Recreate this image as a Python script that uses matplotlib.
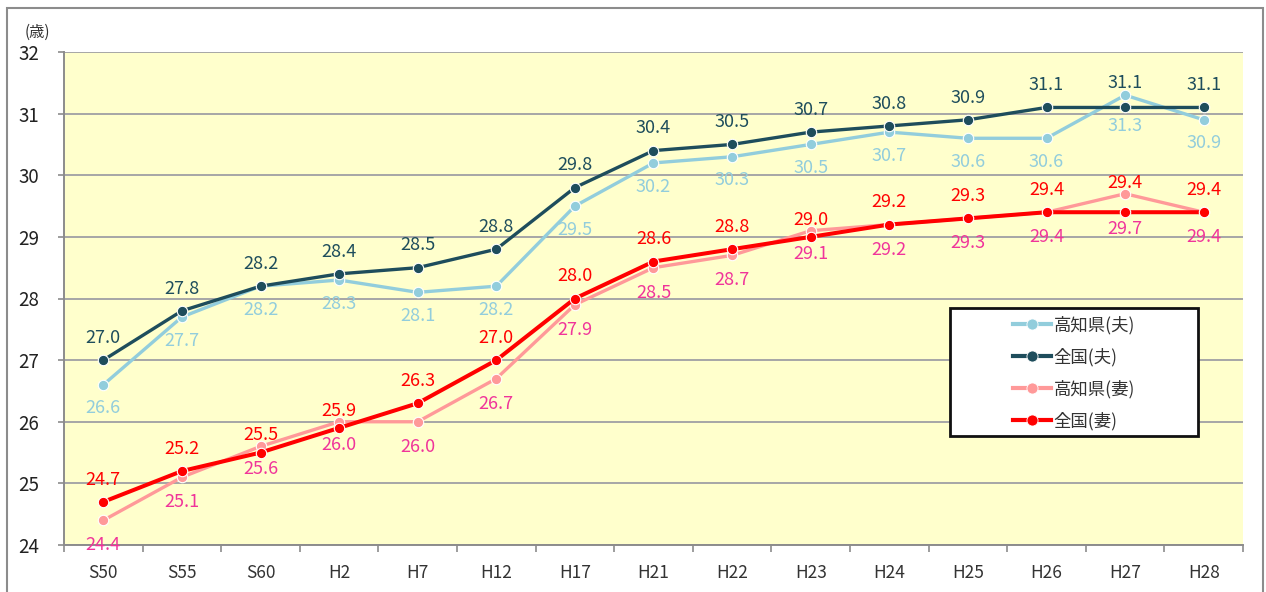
import matplotlib
matplotlib.use("Agg")
import matplotlib.pyplot as plt
from matplotlib.patches import Rectangle
from matplotlib.lines import Line2D
import numpy as np

plt.rcParams['font.family'] = ['Noto Sans CJK JP', 'DejaVu Sans']

categories = ["S50", "S55", "S60", "H2", "H7", "H12", "H17", "H21", "H22", "H23", "H24", "H25", "H26", "H27", "H28"]
kochi_husband = [26.6, 27.7, 28.2, 28.3, 28.1, 28.2, 29.5, 30.2, 30.3, 30.5, 30.7, 30.6, 30.6, 31.3, 30.9]
national_husband = [27.0, 27.8, 28.2, 28.4, 28.5, 28.8, 29.8, 30.4, 30.5, 30.7, 30.8, 30.9, 31.1, 31.1, 31.1]
kochi_wife = [24.4, 25.1, 25.6, 26.0, 26.0, 26.7, 27.9, 28.5, 28.7, 29.1, 29.2, 29.3, 29.4, 29.7, 29.4]
national_wife = [24.7, 25.2, 25.5, 25.9, 26.3, 27.0, 28.0, 28.6, 28.8, 29.0, 29.2, 29.3, 29.4, 29.4, 29.4]
series_names = ["高知県(夫)", "全国(夫)", "高知県(妻)", "全国(妻)"]
y_ticks = [24, 25, 26, 27, 28, 29, 30, 31, 32]
y_unit = "(歳)"

W, H = 1266, 592
fig = plt.figure(figsize=(W / 100, H / 100), dpi=100)
fig.patch.set_facecolor("white")

# outer frame
fig.patches.append(Rectangle((7 / W, -0.05), (1263 - 7) / W, 1.05 - 8 / H,
                             transform=fig.transFigure, fill=False,
                             edgecolor="#8c8c8c", linewidth=1.5))

L, R, T, B = 64, 1243, 52, 545
ax = fig.add_axes([L / W, 1 - B / H, (R - L) / W, (B - T) / H])
ax.set_facecolor("#FFFFCC")

x = np.arange(len(categories))
c_kh, c_nh, c_kw, c_nw = "#92CDDC", "#1E4D5C", "#FF9999", "#FF0000"
lab_kw = "#F0349A"

ax.plot(x, kochi_husband, color=c_kh, lw=2.4, marker="o", ms=7.5, mec="white", mew=0.8, zorder=3)
ax.plot(x, national_husband, color=c_nh, lw=2.4, marker="o", ms=7.5, mec="white", mew=0.8, zorder=4)
ax.plot(x, kochi_wife, color=c_kw, lw=2.4, marker="o", ms=7.5, mec="white", mew=0.8, zorder=3)
ax.plot(x, national_wife, color=c_nw, lw=2.9, marker="o", ms=7.5, mec="white", mew=0.8, zorder=4)

fs = 13
for i in range(len(categories)):
    top_h = max(kochi_husband[i], national_husband[i])
    low_h = min(kochi_husband[i], national_husband[i])
    top_w = max(kochi_wife[i], national_wife[i])
    low_w = min(kochi_wife[i], national_wife[i])
    ax.annotate(f"{national_husband[i]:.1f}", (x[i], top_h), xytext=(0, 16 if top_h == national_husband[i] else 9),
                textcoords="offset points", ha="center", va="center", color=c_nh, fontsize=fs, zorder=6)
    ax.annotate(f"{kochi_husband[i]:.1f}", (x[i], low_h), xytext=(0, -17 if low_h == kochi_husband[i] else -13),
                textcoords="offset points", ha="center", va="center", color=c_kh, fontsize=fs, zorder=6)
    ax.annotate(f"{national_wife[i]:.1f}", (x[i], top_w), xytext=(0, 16 if top_w == national_wife[i] else 8),
                textcoords="offset points", ha="center", va="center", color=c_nw, fontsize=fs, zorder=6)
    ax.annotate(f"{kochi_wife[i]:.1f}", (x[i], low_w), xytext=(0, -18 if low_w == kochi_wife[i] else -12),
                textcoords="offset points", ha="center", va="center", color=lab_kw, fontsize=fs, zorder=6)

ax.set_xlim(-0.5, len(categories) - 0.5)
ax.set_ylim(24, 32)
ax.set_yticks(y_ticks)
ax.set_yticklabels([str(v) for v in y_ticks], fontsize=13.5, color="#222222")
ax.tick_params(axis="y", length=4, width=1.2, color="#8c8c8c", pad=14)
ax.set_xticks(x)
ax.set_xticklabels(categories, fontsize=12.5, color="#333333")
ax.set_xticks(np.arange(-0.5, len(categories), 1.0), minor=True)
ax.tick_params(axis="x", which="major", length=0, pad=14)
ax.tick_params(axis="x", which="minor", length=5, width=1.2, color="#8c8c8c")
ax.grid(axis="y", color="#A6A6A6", lw=1.4, zorder=1)
ax.set_axisbelow(True)
for s in ["top", "right"]:
    ax.spines[s].set_visible(False)
for s in ["left", "bottom"]:
    ax.spines[s].set_color("#8c8c8c")
    ax.spines[s].set_linewidth(1.4)

fig.text(25 / W, 1 - 32 / H, y_unit, fontsize=11, color="#333333", ha="left", va="center")

# legend box
bx0, by0, bx1, by1 = 950, 308, 1198, 436
fig.patches.append(Rectangle((bx0 / W, 1 - by1 / H), (bx1 - bx0) / W, (by1 - by0) / H,
                             transform=fig.transFigure, facecolor="white",
                             edgecolor="#111111", linewidth=2.0, zorder=5))
handles = [Line2D([], [], color=c, lw=3, marker="o", ms=8, mec="white", mew=0.6)
           for c in [c_kh, c_nh, c_kw, c_nw]]
leg = fig.legend(handles, series_names, loc="center",
                 bbox_to_anchor=((bx0 + bx1) / 2 / W, 1 - (by0 + by1 + 2) / 2 / H),
                 frameon=False, fontsize=12.5, handlelength=2.2, labelspacing=0.78,
                 handletextpad=0.15, borderpad=0.2)
leg.set_zorder(6)
for t in leg.get_texts():
    t.set_color("#333333")

fig.savefig("out.png", dpi=100)
